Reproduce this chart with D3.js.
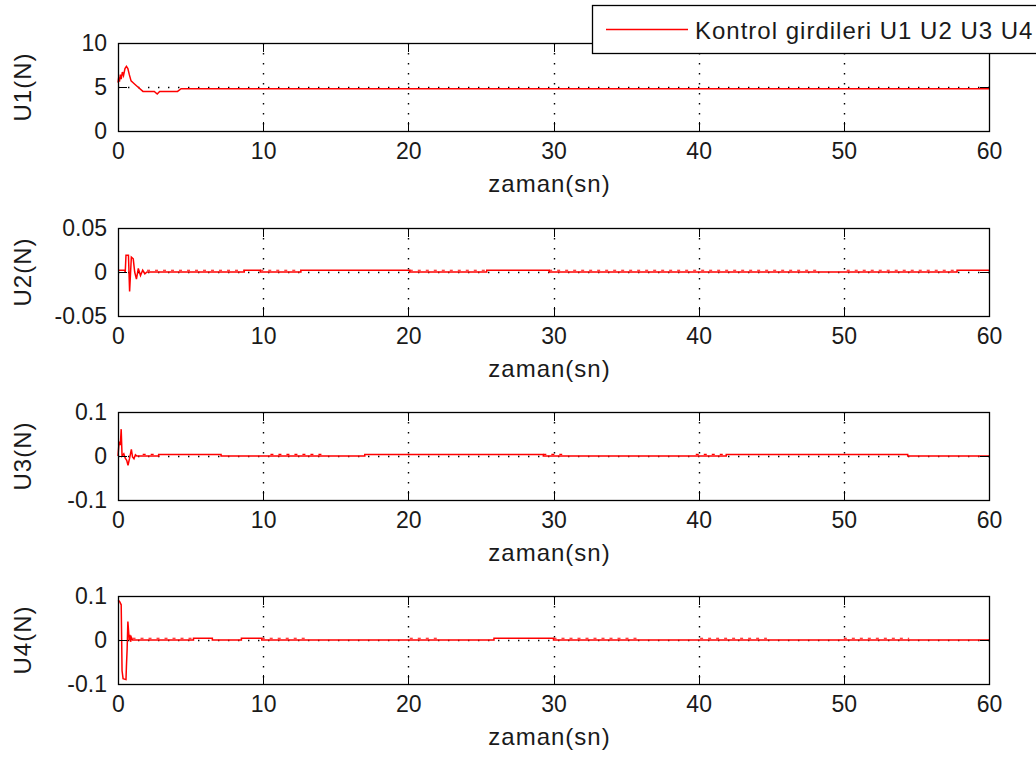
<!DOCTYPE html>
<html>
<head>
<meta charset="utf-8">
<script src="https://cdn.jsdelivr.net/npm/d3@7"></script>
<style>
  body { margin: 0; background: #fff; }
  svg { display: block; }
</style>
</head>
<body>
<svg id="chart" width="1036" height="760"></svg>
<script>
// time axis
const timeTicks = [0, 10, 20, 30, 40, 50, 60];
const xLabel = "zaman(sn)";
const legendLabel = "Kontrol girdileri U1 U2 U3 U4";
const yLabels = ["U1(N)", "U2(N)", "U3(N)", "U4(N)"];

// y ticks per subplot
const u1Ticks = [0, 5, 10];
const u2Ticks = [-0.05, 0, 0.05];
const u3Ticks = [-0.1, 0, 0.1];
const u4Ticks = [-0.1, 0, 0.1];

// control inputs: [t, value]
const u1Points = [
  [0, 5.5], [0.05, 6.1], [0.1, 5.6], [0.16, 6.4], [0.22, 5.9], [0.3, 6.7], [0.38, 6.3],
  [0.48, 7.1], [0.58, 7.35], [0.68, 7.1], [0.78, 6.4], [0.9, 5.7], [1.1, 5.4], [1.37, 5.0],
  [1.72, 4.5], [2.5, 4.5], [2.7, 4.2], [2.87, 4.5], [4.1, 4.5], [4.35, 4.8], [60, 4.8]
];
const u2Points = [
  [0, 0.002], [0.45, 0.002], [0.5, 0.0], [0.55, 0.019], [0.72, 0.019], [0.8, -0.022],
  [0.92, 0.017], [1.05, 0.015], [1.15, 0.0], [1.27, -0.008], [1.4, 0.004], [1.55, -0.004],
  [1.7, 0.002], [1.85, -0.002], [2.0, 0], [8.7, 0], [8.7, 0.002], [9.8, 0.002], [9.8, 0],
  [12.6, 0], [12.6, 0.002], [20.1, 0.002], [20.1, 0], [25.4, 0], [25.4, 0.002], [29.7, 0.002],
  [29.7, 0], [57.8, 0], [57.8, 0.002], [60, 0.002]
];
const u3Points = [
  [0, 0], [0.08, 0.033], [0.16, 0.025], [0.22, 0.061], [0.28, 0.0], [0.4, 0.005], [0.5, -0.005],
  [0.6, -0.01], [0.69, -0.021], [0.8, -0.005], [0.92, 0.015], [1.0, -0.002], [1.1, -0.006],
  [1.2, 0.003], [1.3, 0.0], [1.7, 0.0], [2.8, 0], [2.8, 0.0035], [7.1, 0.0035], [7.1, 0],
  [17.0, 0], [17.0, 0.0035], [29.3, 0.0035], [29.3, 0], [41.9, 0], [41.9, 0.0035],
  [54.4, 0.0035], [54.4, 0], [60, 0]
];
const u4Points = [
  [0, 0.09], [0.1, 0.088], [0.22, 0.08], [0.28, -0.07], [0.35, -0.088], [0.55, -0.09],
  [0.58, -0.06], [0.63, -0.02], [0.68, 0.042], [0.73, 0.02], [0.77, 0.0], [0.82, 0.012],
  [0.87, -0.004], [0.92, 0.006], [1.0, 0], [5.2, 0], [5.2, 0.004], [6.5, 0.004], [6.5, 0],
  [8.5, 0], [8.5, 0.004], [9.9, 0.004], [9.9, 0], [25.9, 0], [25.9, 0.004], [30.0, 0.004],
  [30.0, 0], [60, 0]
];

// stretches where the signal chatters by about one pixel: [t0, t1]
const u1Ripple = [];
const u2Ripple = [[2.0, 8.7], [9.8, 12.6], [20.1, 25.4], [29.7, 48.2], [50.2, 57.8]];
const u3Ripple = [[1.7, 2.8], [10.5, 14.1], [29.3, 30.6], [39.8, 41.9]];
const u4Ripple = [[1.0, 5.2], [9.9, 12.9], [20.1, 22.2], [30.0, 35.9], [40.1, 44.7], [50.0, 54.5]];
const rippleAmp = [0, 0.002, 0.0035, 0.004];

const panels = [
  { top: 43, ticks: u1Ticks, points: u1Points, ripple: u1Ripple },
  { top: 228, ticks: u2Ticks, points: u2Points, ripple: u2Ripple },
  { top: 412, ticks: u3Ticks, points: u3Points, ripple: u3Ripple },
  { top: 596, ticks: u4Ticks, points: u4Points, ripple: u4Ripple }
];

const left = 118, right = 989, plotH = 88;
const fontFamily = '"Liberation Sans", Arial, Helvetica, sans-serif';
const tickFont = 23;
const labelFont = 24;
const textColor = "#1a1a1a";
const red = "#ff0000";

const svg = d3.select("#chart");
const x = d3.scaleLinear().domain([0, 60]).range([left, right]);

panels.forEach((p, i) => {
  const yDom = d3.extent(p.ticks);
  const y = d3.scaleLinear().domain(yDom).range([p.top + plotH, p.top]);
  const g = svg.append("g");

  // dotted grid at inner ticks
  const gx = timeTicks.filter(t => t > 0 && t < 60);
  const gy = p.ticks.filter(v => v > yDom[0] && v < yDom[1]);
  g.selectAll(".vgrid").data(gx).join("line")
    .attr("x1", d => Math.round(x(d)) + 0.5).attr("x2", d => Math.round(x(d)) + 0.5)
    .attr("y1", p.top).attr("y2", p.top + plotH)
    .attr("stroke", "#000").attr("stroke-width", 1.4)
    .attr("stroke-dasharray", "1.4 8.6");
  g.selectAll(".hgrid").data(gy).join("line")
    .attr("x1", left).attr("x2", right)
    .attr("y1", d => Math.round(y(d)) + 0.5).attr("y2", d => Math.round(y(d)) + 0.5)
    .attr("stroke", "#000").attr("stroke-width", 1.4)
    .attr("stroke-dasharray", "1.4 8.6");

  // signal
  const line = d3.line().x(d => x(d[0])).y(d => y(d[1]));
  g.append("path").datum(p.points)
    .attr("d", line).attr("fill", "none")
    .attr("stroke", red).attr("stroke-width", 1.5)
    .attr("stroke-linejoin", "miter");
  g.selectAll(".ripple").data(p.ripple).join("path")
    .attr("d", d => line([[d[0], rippleAmp[i]], [d[1], rippleAmp[i]]]))
    .attr("fill", "none").attr("stroke", red).attr("stroke-width", 1.2)
    .attr("stroke-dasharray", "3 5");

  // axes with inward ticks on all four sides
  const styleAxis = a => a.call(s => s.select(".domain").remove())
    .attr("font-size", tickFont).attr("font-family", fontFamily)
    .attr("color", "#000")
    .call(s => s.selectAll("line").attr("shape-rendering", "crispEdges"))
    .call(s => s.selectAll("text").attr("fill", textColor));

  g.append("g").attr("transform", `translate(0,${p.top + plotH})`)
    .call(d3.axisBottom(x).tickValues(timeTicks).tickFormat(d => String(d))
      .tickSizeInner(-9).tickSizeOuter(0).tickPadding(12))
    .call(styleAxis);
  g.append("g").attr("transform", `translate(0,${p.top})`)
    .call(d3.axisTop(x).tickValues(timeTicks).tickFormat("")
      .tickSizeInner(-9).tickSizeOuter(0))
    .call(styleAxis);
  g.append("g").attr("transform", `translate(${left},0)`)
    .call(d3.axisLeft(y).tickValues(p.ticks).tickFormat(d => String(d))
      .tickSizeInner(-9).tickSizeOuter(0).tickPadding(11))
    .call(styleAxis);
  g.append("g").attr("transform", `translate(${right},0)`)
    .call(d3.axisRight(y).tickValues(p.ticks).tickFormat("")
      .tickSizeInner(-9).tickSizeOuter(0))
    .call(styleAxis);

  // box
  g.append("rect")
    .attr("x", left + 0.5).attr("y", p.top + 0.5)
    .attr("width", right - left).attr("height", plotH)
    .attr("fill", "none").attr("stroke", "#000").attr("stroke-width", 1.3);

  // labels
  g.append("text")
    .attr("x", (left + right) / 2 - 4).attr("y", p.top + plotH + 61)
    .attr("text-anchor", "middle").attr("letter-spacing", 1)
    .attr("font-size", labelFont).attr("font-family", fontFamily).attr("fill", textColor)
    .text(xLabel);
  g.append("text")
    .attr("transform", `translate(31,${p.top + plotH / 2}) rotate(-90)`)
    .attr("text-anchor", "middle").attr("letter-spacing", 1)
    .attr("font-size", labelFont).attr("font-family", fontFamily).attr("fill", textColor)
    .text(yLabels[i]);
});

// legend, sitting over the top right of the first subplot
const lg = svg.append("g");
lg.append("rect")
  .attr("x", 592.5).attr("y", 5.5).attr("width", 470).attr("height", 48)
  .attr("fill", "#fff").attr("stroke", "#000").attr("stroke-width", 1.3);
lg.append("line")
  .attr("x1", 606).attr("x2", 688).attr("y1", 29.5).attr("y2", 29.5)
  .attr("stroke", red).attr("stroke-width", 1.5);
lg.append("text")
  .attr("x", 695).attr("y", 39).attr("letter-spacing", 1)
  .attr("font-size", labelFont).attr("font-family", fontFamily).attr("fill", textColor)
  .text(legendLabel);
</script>
</body>
</html>
